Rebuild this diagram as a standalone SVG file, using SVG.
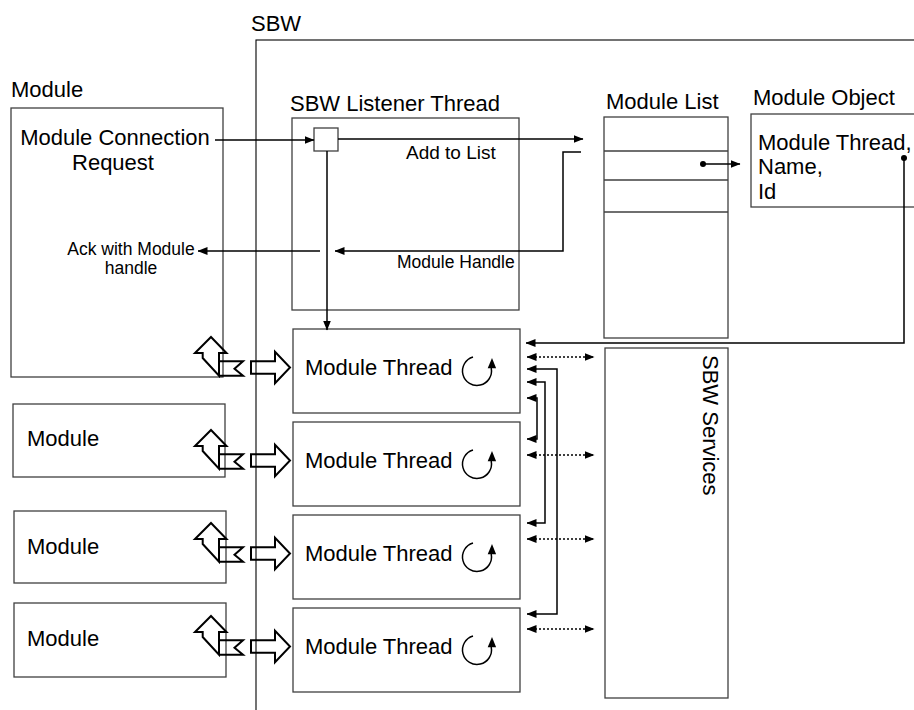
<svg xmlns="http://www.w3.org/2000/svg" width="914" height="710" viewBox="0 0 914 710">
  <defs>
    <style>
      text { font-family: "Liberation Sans", Arial, sans-serif; fill: #000; }
      .lbl { font-size: 22px; }
      .sm { font-size: 17.5px; }
      .box { fill: #fff; stroke: #404040; stroke-width: 1.3; }
      .frame { fill: none; stroke: #000; stroke-width: 1.1; }
      .ln { fill: none; stroke: #000; stroke-width: 1.5; }
      .dot { fill: none; stroke: #000; stroke-width: 1.5; stroke-dasharray: 2 2; }
      .sym { fill: none; stroke: #000; stroke-width: 2; stroke-linejoin: miter; }
    </style>
    <marker id="ah" markerWidth="10" markerHeight="8" refX="9.5" refY="4" orient="auto-start-reverse" markerUnits="userSpaceOnUse">
      <path d="M0,0 L10,4 L0,8 Z" fill="#000"/>
    </marker>
    <marker id="bd" markerWidth="8" markerHeight="8" refX="4" refY="4" orient="auto" markerUnits="userSpaceOnUse">
      <circle cx="4" cy="4" r="3" fill="#000"/>
    </marker>
    <!-- bent two-way arrow between a module and its thread -->
    <g id="link">
      <path class="sym" d="M0,0 L15.5,16 L8,16 L8,38.7 L-8.3,21 L-8.3,16 L-16,16 Z"/>
      <path class="sym" d="M8,24.3 L32,24.3 L23.5,31.8 L32,38.7 L8,38.7"/>
      <path class="sym" d="M40,24.3 L64,24.3 L64,14.7 L79,30.5 L64,46.3 L64,36.7 L40,36.7 Z"/>
    </g>
    <!-- circular loop symbol -->
    <g id="loop">
      <path d="M-4,-14 A14.5,14.5 0 1 0 14.2,-3" fill="none" stroke="#000" stroke-width="1.5"/>
      <path d="M15,-13 L10.7,-2.8 L19.1,-2.8 Z" fill="#000"/>
    </g>
  </defs>

  <!-- SBW environment frame -->
  <g id="sbw">
    <rect class="frame" x="256" y="40" width="720" height="720"/>
    <text class="lbl" x="251" y="31">SBW</text>
  </g>

  <!-- External modules -->
  <g id="module-main">
    <text class="lbl" x="11" y="97">Module</text>
    <rect class="box" x="11" y="108" width="212" height="269"/>
    <text class="lbl" x="115" y="145" text-anchor="middle">Module Connection</text>
    <text class="lbl" x="113" y="170" text-anchor="middle">Request</text>
    <text class="sm" x="131" y="255" text-anchor="middle">Ack with Module</text>
    <text class="sm" x="131" y="274" text-anchor="middle">handle</text>
  </g>
  <g id="module-2">
    <rect class="box" x="13" y="404" width="212" height="73"/>
    <text class="lbl" x="27" y="446">Module</text>
  </g>
  <g id="module-3">
    <rect class="box" x="14" y="511" width="212" height="72"/>
    <text class="lbl" x="27" y="554">Module</text>
  </g>
  <g id="module-4">
    <rect class="box" x="14" y="603" width="212" height="74"/>
    <text class="lbl" x="27" y="646">Module</text>
  </g>

  <!-- Listener thread -->
  <g id="listener">
    <text class="lbl" x="290" y="111">SBW Listener Thread</text>
    <rect class="box" x="292" y="118" width="227" height="192"/>
    <rect class="box" x="314" y="128" width="24" height="23"/>
    <text class="sm" x="406" y="159" style="font-size:19px">Add to List</text>
    <text class="sm" x="397" y="268">Module Handle</text>
  </g>

  <!-- Module list and module object -->
  <g id="module-list">
    <text class="lbl" x="606" y="109">Module List</text>
    <rect class="box" x="604" y="117" width="124" height="221"/>
    <path d="M604,151 H728 M604,180 H728 M604,212 H728" stroke="#404040" stroke-width="1.3"/>
  </g>
  <g id="module-object">
    <text class="lbl" x="753" y="105">Module Object</text>
    <rect class="box" x="751" y="114" width="200" height="93"/>
    <text class="lbl" x="758" y="150">Module Thread,</text>
    <text class="lbl" x="758" y="174">Name,</text>
    <text class="lbl" x="758" y="199">Id</text>
  </g>

  <!-- Module threads -->
  <g id="thread-1">
    <rect class="box" x="293" y="329" width="227" height="84"/>
    <text class="lbl" x="305" y="375">Module Thread</text>
    <use href="#loop" x="477" y="371"/>
  </g>
  <g id="thread-2">
    <rect class="box" x="293" y="422" width="227" height="84"/>
    <text class="lbl" x="305" y="468">Module Thread</text>
    <use href="#loop" x="477" y="464"/>
  </g>
  <g id="thread-3">
    <rect class="box" x="293" y="515" width="227" height="84"/>
    <text class="lbl" x="305" y="561">Module Thread</text>
    <use href="#loop" x="477" y="557"/>
  </g>
  <g id="thread-4">
    <rect class="box" x="293" y="608" width="227" height="84"/>
    <text class="lbl" x="305" y="654">Module Thread</text>
    <use href="#loop" x="477" y="650"/>
  </g>

  <!-- Services -->
  <g id="services">
    <rect class="box" x="605" y="348" width="123" height="350"/>
    <text class="lbl" transform="translate(703,355) rotate(90)">SBW Services</text>
  </g>

  <!-- Connectors -->
  <g id="connectors">
    <path class="ln" d="M215,140 H314" marker-end="url(#ah)"/>
    <path class="ln" d="M338,139 H583" marker-end="url(#ah)"/>
    <path class="ln" d="M581,152 H563 V251 H335" marker-end="url(#ah)"/>
    <path class="ln" d="M320,251 H198" marker-end="url(#ah)"/>
    <path class="ln" d="M327,151 V330" marker-end="url(#ah)"/>
    <path class="ln" d="M703,164 H740" marker-start="url(#bd)" marker-end="url(#ah)"/>
    <path class="ln" d="M904,158 V343 H526" marker-start="url(#bd)" marker-end="url(#ah)"/>

    <path class="ln" d="M527,369 H557 V614 H527" marker-start="url(#ah)" marker-end="url(#ah)"/>
    <path class="ln" d="M527,382 H545 V523 H527" marker-start="url(#ah)" marker-end="url(#ah)"/>
    <path class="ln" d="M527,398 H537 V439 H527" marker-start="url(#ah)" marker-end="url(#ah)"/>

    <path class="dot" d="M527,357 H594" marker-start="url(#ah)" marker-end="url(#ah)"/>
    <path class="dot" d="M527,455 H594" marker-start="url(#ah)" marker-end="url(#ah)"/>
    <path class="dot" d="M527,539 H594" marker-start="url(#ah)" marker-end="url(#ah)"/>
    <path class="dot" d="M527,629 H594" marker-start="url(#ah)" marker-end="url(#ah)"/>

    <use href="#link" x="211" y="337"/>
    <use href="#link" x="211" y="430"/>
    <use href="#link" x="211" y="523"/>
    <use href="#link" x="211" y="616"/>
  </g>
</svg>
